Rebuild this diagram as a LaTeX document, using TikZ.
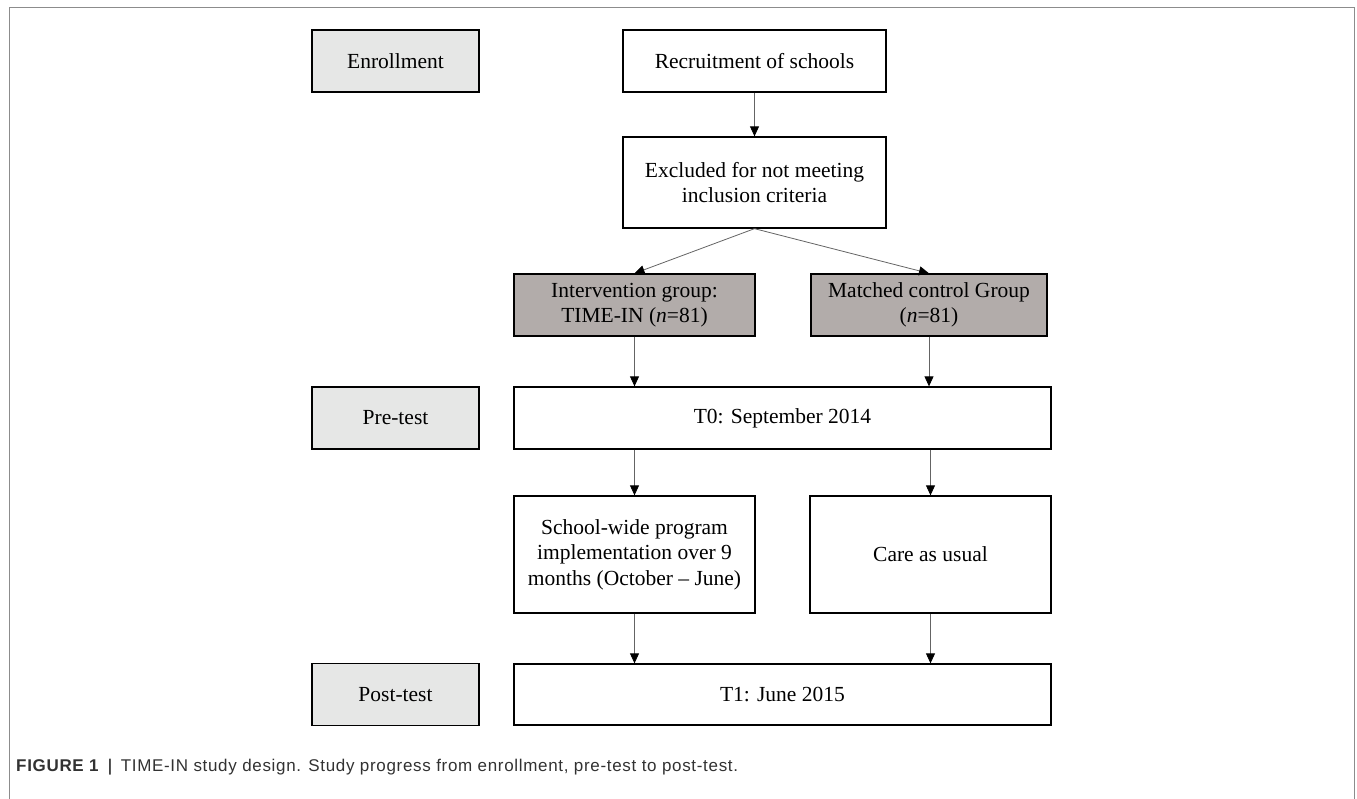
\documentclass[tikz,border=0pt]{standalone}
\usepackage{fontspec}
\setmainfont{Liberation Serif}
\newfontfamily\capfont[LetterSpace=4]{Liberation Sans}
\usetikzlibrary{arrows.meta}
\definecolor{lightbox}{RGB}{230,231,230}
\definecolor{darkbox}{RGB}{178,172,170}
\definecolor{framegray}{RGB}{140,140,140}
\definecolor{arrowgray}{RGB}{100,100,100}
\definecolor{captext}{RGB}{50,50,50}
\begin{document}
\begin{tikzpicture}[x=1pt,y=-1pt,
  box/.style={draw=black,line width=1.3pt,rectangle,inner sep=0pt,align=center,
    font=\fontsize{21.5}{25.5}\selectfont},
  stagebox/.style={box,fill=lightbox},
  groupbox/.style={box,fill=darkbox},
  flow/.style={draw=arrowgray,line width=0.8pt,-{Triangle[length=10pt,width=9pt,color=black,fill=black]}}
]
\useasboundingbox (0,0) rectangle (1357,798);
% frame
\draw[framegray,line width=1pt] (9,800) -- (9,7.5) -- (1354.5,7.5) -- (1354.5,800);

% stage boxes
\node[stagebox,minimum width=167pt,minimum height=62pt] (enroll) at (395.5,61) {Enrollment};
\node[stagebox,minimum width=167pt,minimum height=62pt] (pre) at (395.5,418) {Pre-test};
\node[stagebox,minimum width=167pt,minimum height=62pt] (post) at (395.5,694.5) {Post-test};

% flow boxes
\node[box,minimum width=263pt,minimum height=62pt] (recruit) at (754.5,61) {Recruitment of schools};
\node[box,minimum width=263pt,minimum height=91pt] (excl) at (754.5,182.5) {Excluded for not meeting\\inclusion criteria};
\node[groupbox,minimum width=241pt,minimum height=62pt] (intv) at (634.5,305) {Intervention group:\\TIME-IN (\textit{n}=81)};
\node[groupbox,minimum width=236pt,minimum height=62pt] (ctrl) at (929,305) {Matched control Group\\(\textit{n}=81)};
\node[box,minimum width=537pt,minimum height=62pt] (t0) at (782.5,418) {T0: September 2014};
\node[box,minimum width=241pt,minimum height=117pt] (school) at (634.5,554.5) {School-wide program\\implementation over 9\\months (October -- June)};
\node[box,minimum width=241pt,minimum height=117pt] (care) at (930.5,554.5) {Care as usual};
\node[box,minimum width=537pt,minimum height=61pt] (t1) at (782.5,694.5) {T1: June 2015};

% connectors
\draw[flow] (recruit.south) -- (excl.north);
\draw[flow] (excl.south) -- (intv.north);
\draw[flow] (excl.south) -- (ctrl.north);
\draw[flow] (intv.south) -- (intv.south |- t0.north);
\draw[flow] (ctrl.south) -- (ctrl.south |- t0.north);
\draw[flow] (school.north |- t0.south) -- (school.north);
\draw[flow] (care.north |- t0.south) -- (care.north);
\draw[flow] (school.south) -- (school.south |- t1.north);
\draw[flow] (care.south) -- (care.south |- t1.north);

% caption
\node[anchor=base west,inner sep=0pt,text=captext,font=\capfont\fontsize{17}{20}\selectfont] (cap) at (16,771)
  {\textbf{FIGURE 1}\enspace{\color{black}|}\enspace TIME-IN study design. Study progress from enrollment, pre-test to post-test.};
\end{tikzpicture}
\end{document}
